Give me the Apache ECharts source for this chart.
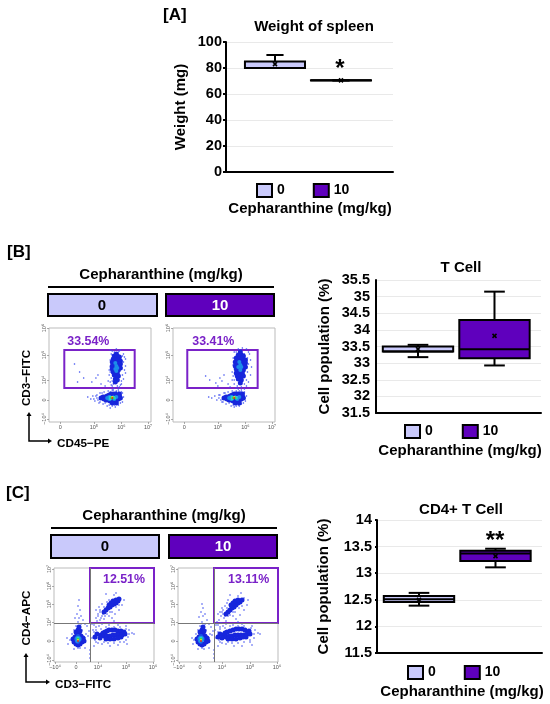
<!DOCTYPE html>
<html><head><meta charset="utf-8">
<style>html,body{margin:0;padding:0;background:#fff}#c{width:550px;height:704px}</style>
<script src="https://cdn.jsdelivr.net/npm/echarts@6/dist/echarts.min.js"></script>
</head><body><div id="c"></div>
<script>
// ---- data: box plots, rows are [group, min, q1, median, q3, max, mean]
const doses = ['0', '10'];
const spleen0 = [0, 80, 80, 80, 85, 90, 83];
const spleen10 = [1, 70.4, 70.4, 70.5, 70.6, 70.6, 70.5];
const tcell0 = [0, 33.18, 33.35, 33.35, 33.5, 33.55, 33.42];
const tcell10 = [1, 32.93, 33.15, 33.42, 34.3, 35.15, 33.82];
const cd4_0 = [0, 12.39, 12.46, 12.51, 12.57, 12.63, 12.5];
const cd4_10 = [1, 13.11, 13.23, 13.37, 13.42, 13.46, 13.32];
// ---- flow panel tick positions (scale units) and labels
const bTickX = [11, 44, 71, 97], bTickXLabels = ['0', '10⁵', '10⁶', '10⁷'];
const bTickY = [3, 22, 42, 67, 94], bTickYLabels = ['−10⁴', '0', '10⁴', '10⁵', '10⁶'];
const cTickX = [1, 22, 44, 72, 99], cTickXLabels = ['−10⁴', '0', '10⁴', '10⁵', '10⁶'];
const cTickY = [2, 21, 40, 58, 76, 93], cTickYLabels = ['−10⁴', '0', '10⁴', '10⁵', '10⁶', '10⁷'];
// ---- flow events: sparse, dense, core [x, y, heat]
const b1Sparse = [[25,58],[30,50],[34,44],[28,40],[42,40],[46,44],[51,38],[55,36],[48,47],[58,41],[59,47],[60,55],[60,62],[61,68],[62,71],[66,73],[70,72],[73,68],[75,63],[75,56],[75,49],[73,43],[71,38],[69,35],[62,36],[60,40],[64,34],[68,33],[66,31],[63,32],[38,25],[41,23],[43,26],[45,21],[47,27],[49,19],[50,29],[54,30],[58,31],[62,32],[68,31],[72,29],[73,25],[72,20],[68,17],[62,16],[57,16],[53,18],[60,14],[65,15],[61,37],[72,66],[59,52],[74,52],[72,47],[47,24],[44,23],[60,72],[68,70],[62,67],[61,44],[62,41],[71,41],[70,37],[60,50],[73,60],[74,65],[64,70],[69,71],[63,38],[67,36],[46,26],[48,22],[50,20],[52,29],[55,19],[59,17],[64,17],[70,19],[71,30],[66,30],[60,30]];
const b1Dense = [[66,68],[64,66],[67,66],[69,65],[63,63],[65,62],[68,62],[70,61],[62,60],[64,59],[66,59],[68,58],[70,58],[62,56],[64,56],[66,55],[68,55],[70,54],[62,53],[64,52],[66,52],[68,52],[63,50],[65,49],[67,49],[64,47],[66,46],[68,46],[65,43],[67,42],[65,40],[51,24],[53,25],[55,25],[57,26],[59,27],[61,28],[63,28],[65,28],[67,27],[69,26],[54,23],[56,22],[58,22],[60,21],[62,21],[64,21],[66,22],[68,23],[70,24],[69,28],[66,19],[62,19]];
const b1Core = [[65,59,2],[66,56,2],[65,53,2],[67,54,2],[66,51,2],[57,24,2],[59,25,2],[66,25,2],[64,23,2],[59,23,2],[60,25,3],[63,25,3],[60,23,3],[64,24,3],[61,24,4],[63,24,4],[62,25,5],[62,24,6]];
const b2Sparse = [[32,46],[36,42],[42,39],[46,44],[48,41],[50,47],[54,38],[44,36],[56,35],[58,42],[58,50],[59,57],[59,64],[60,70],[64,73],[68,74],[72,73],[75,68],[76,62],[77,55],[76,47],[74,40],[72,36],[70,33],[62,34],[60,38],[64,33],[67,32],[66,30],[35,25],[38,24],[41,26],[43,22],[46,27],[48,20],[50,29],[54,30],[58,31],[62,31],[67,30],[70,29],[72,26],[71,21],[67,18],[62,16],[57,16],[52,18],[60,15],[65,16],[74,58],[59,46],[73,50],[62,70],[70,68],[45,24],[60,42],[61,47],[72,42],[70,38],[63,36],[67,35],[73,64],[74,70],[66,72],[60,60],[45,27],[47,22],[49,20],[51,29],[55,19],[59,17],[64,17],[69,19],[70,30],[65,31]];
const b2Dense = [[66,70],[64,67],[67,67],[69,66],[62,64],[65,63],[68,63],[71,62],[61,60],[63,60],[66,60],[68,59],[71,59],[61,56],[63,56],[66,56],[68,56],[71,55],[62,53],[64,52],[66,52],[69,52],[62,49],[65,49],[68,49],[63,46],[66,46],[69,46],[64,43],[67,42],[66,39],[50,24],[52,25],[54,25],[56,26],[58,27],[60,28],[62,28],[64,28],[66,27],[68,26],[53,23],[55,22],[57,22],[59,21],[61,21],[63,21],[65,22],[67,23],[69,24],[68,28],[65,19],[61,19]];
const b2Core = [[65,60,2],[66,57,2],[64,55,2],[67,55,2],[66,52,2],[55,24,2],[57,25,2],[65,25,2],[63,23,2],[57,23,2],[58,25,3],[61,25,3],[58,23,3],[62,24,3],[59,24,4],[61,24,4],[60,25,5],[60,24,6]];
const c1Sparse = [[25,62],[24,56],[26,52],[23,48],[27,46],[21,44],[29,42],[25,44],[31,38],[33,36],[31,24],[34,26],[35,31],[13,24],[14,18],[20,13],[26,14],[31,14],[36,12],[36,8],[36,4],[42,52],[44,48],[42,44],[46,42],[48,46],[50,43],[45,55],[48,58],[52,52],[55,46],[58,44],[61,48],[60,41],[65,52],[68,57],[70,62],[66,63],[60,67],[62,69],[40,37],[42,35],[38,38],[48,38],[72,36],[75,32],[78,29],[74,25],[70,20],[64,17],[56,16],[48,18],[42,20],[38,24],[39,32],[45,36],[55,37],[64,37],[80,28],[52,68],[55,62],[46,50],[53,60],[40,16],[73,18],[44,46],[47,44],[49,48],[51,46],[53,48],[56,50],[58,50],[50,55],[46,52],[43,41],[62,55],[65,57],[40,30],[41,22],[44,19],[50,20],[54,19],[60,19],[66,20],[72,22],[75,28],[72,33],[66,35],[60,35],[52,35],[47,33],[42,32],[24,40],[27,38],[22,36],[20,32],[28,32],[32,28],[31,20],[16,22],[18,28],[24,14]];
const c1Dense = [[52,52],[54,54],[56,55],[58,57],[55,57],[60,58],[57,59],[62,59],[59,61],[64,61],[62,62],[65,63],[50,50],[47,27],[49,29],[51,30],[53,31],[55,32],[58,32],[61,32],[64,31],[67,31],[70,30],[50,26],[53,26],[56,26],[59,27],[62,27],[65,27],[68,27],[71,28],[46,24],[52,23],[56,23],[60,23],[64,24],[67,25],[43,28],[41,25],[20,20],[22,18],[24,17],[26,18],[28,20],[19,23],[21,25],[23,27],[25,28],[27,26],[29,24],[22,30],[24,32],[26,31],[25,35],[27,23],[30,21]];
const c1Core = [[22,23,1],[26,23,1],[24,26,1],[24,20,1],[23,24,2],[25,22,2],[25,24,2],[23,21,2],[24,24,3],[24,22,3],[24,23,4],[24,22,5],[24,21,6]];
const c2Sparse = [[24,58],[25,54],[23,50],[27,48],[21,45],[29,42],[25,46],[31,38],[33,35],[31,24],[34,27],[35,31],[14,24],[15,18],[20,13],[26,13],[31,14],[36,12],[36,8],[36,4],[40,48],[43,46],[41,42],[46,44],[48,41],[39,40],[45,52],[47,56],[52,50],[55,46],[58,43],[62,47],[60,40],[66,52],[69,57],[70,62],[66,64],[60,66],[63,69],[40,37],[42,35],[38,37],[48,38],[74,36],[77,32],[80,29],[76,24],[72,20],[64,16],[56,16],[48,18],[42,20],[38,24],[37,32],[45,36],[55,37],[64,38],[82,28],[52,67],[50,62],[44,50],[49,59],[40,16],[74,17],[42,50],[45,48],[47,46],[50,46],[52,47],[55,50],[57,50],[49,54],[44,54],[43,39],[61,54],[64,56],[40,30],[41,22],[44,19],[50,20],[54,19],[60,19],[66,20],[72,22],[76,28],[73,34],[66,36],[60,36],[52,36],[47,34],[42,33],[24,40],[27,38],[22,36],[20,32],[28,32],[32,28],[31,20],[16,22],[18,28],[24,14]];
const c2Dense = [[50,50],[52,52],[54,54],[56,55],[53,57],[58,57],[55,59],[60,59],[57,61],[62,60],[60,62],[64,62],[48,48],[45,27],[47,29],[49,30],[52,31],[55,32],[58,33],[61,33],[64,33],[67,32],[71,31],[48,25],[51,26],[54,26],[57,27],[60,27],[63,27],[66,27],[69,28],[72,28],[44,24],[50,23],[54,23],[58,23],[62,24],[65,25],[68,25],[42,28],[40,25],[20,20],[22,18],[24,17],[26,18],[28,20],[19,23],[21,25],[23,27],[25,28],[27,26],[29,24],[22,30],[24,32],[26,31],[25,35],[27,23],[30,21]];
const c2Core = [[21,23,1],[25,23,1],[23,26,1],[23,20,1],[22,24,2],[24,22,2],[24,24,2],[22,21,2],[23,24,3],[23,22,3],[23,23,4],[23,22,5],[23,21,6]];
// ---- gates and percentages
const bGate1 = [[15, 72], [84, 34]], bGate2 = [[14, 72], [83, 34]];
const cGate = [[36, 94], [100, 39]];
const cQuad = [36, 39];

const LAV = '#c9c9fb', PUR = '#5f00bd', GATE = '#7a22c8', FONT = '"Liberation Sans",Arial,sans-serif';
const heat = ['#1726dc', '#1a55e6', '#1c8ce8', '#25cfd8', '#3ed84e', '#f0e020', '#e0201a'];

function boxItem(cap, wid) {
  return function (params, api) {
    const x = api.value(0);
    const p = v => api.coord([x, api.value(v)]);
    const half = api.size([wid, 0])[0] / 2, capH = api.size([cap, 0])[0] / 2;
    const cx = p(1)[0];
    const ys = [1, 2, 3, 4, 5, 6].map(i => p(i)[1]);
    const ln = (x1, y1, x2, y2, w) => ({ type: 'line', shape: { x1, y1, x2, y2 }, style: { stroke: '#000', lineWidth: w || 2 } });
    const m = ys[5];
    return {
      type: 'group', children: [
        ln(cx, ys[0], cx, ys[4]),
        ln(cx - capH, ys[0], cx + capH, ys[0]),
        ln(cx - capH, ys[4], cx + capH, ys[4]),
        { type: 'rect', shape: { x: cx - half, y: ys[3], width: half * 2, height: ys[1] - ys[3] }, style: { fill: api.visual('color'), stroke: '#000', lineWidth: 2 } },
        ln(cx - half, ys[2], cx + half, ys[2]),
        ln(cx - 2, m - 2, cx + 2, m + 2, 1.6),
        ln(cx - 2, m + 2, cx + 2, m - 2, 1.6)
      ]
    };
  };
}
function boxSeries(name, row, color, i, cap, wid) {
  return { type: 'custom', name, xAxisIndex: i, yAxisIndex: i, data: [row], encode: { x: 0, y: [1, 2, 3, 4, 5, 6] }, clip: false,
    itemStyle: { color, borderColor: '#000', borderWidth: 2 }, renderItem: boxItem(cap, wid) };
}
const AX = { fontFamily: FONT, fontWeight: 'bold', fontSize: 14.5, color: '#000' };
function boxValueAxis(i, min, max, interval, name, gap, margin, tick) {
  return { type: 'value', gridIndex: i, min, max, interval, name, nameLocation: 'middle', nameRotate: 90, nameGap: gap,
    nameTextStyle: { fontFamily: FONT, fontWeight: 'bold', fontSize: 15, color: '#000' },
    axisLine: { show: true, onZero: false, lineStyle: { color: '#000', width: 2 } },
    axisTick: { show: tick > 0, length: tick, lineStyle: { color: '#000', width: 2 } },
    axisLabel: Object.assign({ margin, hideOverlap: false }, AX),
    splitLine: { show: true, lineStyle: { color: '#e9e9e9', width: 1 } } };
}
function boxCatAxis(i, min, max) {
  return { type: 'value', gridIndex: i, min, max, axisLine: { show: true, onZero: false, lineStyle: { color: '#000', width: 2 } },
    axisTick: { show: false }, axisLabel: { show: false }, splitLine: { show: false } };
}
function legend(left, top, gap) {
  return { left, top, padding: 0, itemWidth: 15, itemHeight: 13, itemGap: gap, selectedMode: false, icon: 'rect', data: doses,
    textStyle: { fontFamily: FONT, fontWeight: 'bold', fontSize: 14, color: '#000' } };
}
function flowX(i, ticks, labels) {
  return { type: 'value', gridIndex: i, min: 0, max: 100, axisLine: { show: false },
    axisTick: { show: true, length: 2, customValues: ticks, lineStyle: { color: '#888', width: .7 } },
    axisLabel: { show: true, customValues: ticks, margin: 2, fontSize: 5.5, color: '#555', fontFamily: FONT, hideOverlap: false, formatter: v => labels[ticks.indexOf(v)] },
    splitLine: { show: false } };
}
function flowY(i, ticks, labels) {
  return { type: 'value', gridIndex: i, min: 0, max: 94, axisLine: { show: false },
    axisTick: { show: true, length: 2, customValues: ticks, lineStyle: { color: '#888', width: .7 } },
    axisLabel: { show: true, customValues: ticks, rotate: 90, margin: 2, fontSize: 5.5, color: '#555', fontFamily: FONT, hideOverlap: false, formatter: v => labels[ticks.indexOf(v)] },
    splitLine: { show: false } };
}
function flowSeries(i, sparse, dense, core, gate, pct, pctPos, quad) {
  const data = sparse.map(p => [p[0], p[1], 'a']).concat(dense.map(p => [p[0], p[1], 'b']), core);
  const s = { type: 'scatter', xAxisIndex: i, yAxisIndex: i, data, silent: true, animation: false,
    symbolSize: v => v[2] === 'a' ? 1.6 : v[2] === 'b' ? 5 : [3, 4, 4, 3.2, 2.6, 2, 1.8][v[2]],
    itemStyle: { color: o => typeof o.value[2] === 'string' ? (o.value[2] === 'a' ? '#3b4df0' : heat[0]) : heat[o.value[2]], opacity: 1 },
    markArea: { silent: true, data: [[
      { coord: gate[0], itemStyle: { color: 'rgba(0,0,0,0)', borderColor: GATE, borderWidth: 2 },
        label: { show: true, formatter: pct, position: pctPos, fontFamily: FONT, fontWeight: 'bold', fontSize: 12.4, color: GATE } },
      { coord: gate[1] }]] } };
  if (quad) s.markLine = { silent: true, symbol: 'none', label: { show: false }, lineStyle: { color: '#777', width: 1, type: 'solid' }, data: [{ xAxis: quad[0] }, { yAxis: quad[1] }] };
  return s;
}
// ---- free text and decoration
const txt = (x, y, text, size, o) => Object.assign({ type: 'text', x, y, style: { text, fontFamily: FONT, fontWeight: 'bold', fontSize: size, fill: (o && o.fill) || '#000', textAlign: (o && o.align) || 'center', textVerticalAlign: 'middle' } }, o && o.rotation ? { rotation: o.rotation } : {});
const rect = (x, y, w, h, fill) => ({ type: 'rect', shape: { x, y, width: w, height: h }, style: { fill, stroke: '#000', lineWidth: 2 } });
const hline = (x1, x2, y) => ({ type: 'line', shape: { x1, y1: y, x2, y2: y }, style: { stroke: '#000', lineWidth: 2 } });
const arrows = (x, y, top, right) => [
  { type: 'polyline', shape: { points: [[x, top + 3], [x, y], [right - 3, y]] }, style: { stroke: '#000', lineWidth: 1.5, fill: 'none' } },
  { type: 'polygon', shape: { points: [[x - 2.5, top + 4], [x + 2.5, top + 4], [x, top]] }, style: { fill: '#000' } },
  { type: 'polygon', shape: { points: [[right - 4, y - 2.5], [right - 4, y + 2.5], [right, y]] }, style: { fill: '#000' } }];
const R90 = Math.PI / 2;
const graphics = [
  txt(163, 15, '[A]', 17, { align: 'left' }), txt(7, 252, '[B]', 17, { align: 'left' }), txt(6, 493, '[C]', 17, { align: 'left' }),
  txt(314, 27, 'Weight of spleen', 15), txt(461, 268, 'T Cell', 15), txt(461, 510, 'CD4+ T Cell', 15),
  txt(310, 209, 'Cepharanthine (mg/kg)', 15), txt(460, 451, 'Cepharanthine (mg/kg)', 15), txt(462, 692, 'Cepharanthine (mg/kg)', 15),
  txt(340, 69, '*', 24), txt(495, 541, '**', 24),
  txt(161, 275, 'Cepharanthine (mg/kg)', 15), hline(48, 274, 287), rect(48, 294, 109, 22, LAV), rect(166, 294, 108, 22, PUR),
  txt(102, 306, '0', 15), txt(220, 306, '10', 15, { fill: '#fff' }),
  txt(164, 516, 'Cepharanthine (mg/kg)', 15), hline(51, 277, 528), rect(51, 535, 108, 23, LAV), rect(169, 535, 108, 23, PUR),
  txt(105, 547, '0', 15), txt(223, 547, '10', 15, { fill: '#fff' }),
  txt(27, 378, 'CD3−FITC', 11.7, { rotation: R90 }), txt(57, 444, 'CD45−PE', 11.7, { align: 'left' }),
  txt(27, 618, 'CD4−APC', 11.7, { rotation: R90 }), txt(55, 685, 'CD3−FITC', 11.7, { align: 'left' })
].concat(arrows(29, 441, 412, 52), arrows(26, 682, 653, 50));

const flowGrid = (left, top, width, height) => ({ left, top, width, height, show: true, borderColor: '#bbb', borderWidth: 1, backgroundColor: '#fff' });

const option = {
  animation: false,
  grid: [
    { left: 226, top: 42, width: 167, height: 130 },
    { left: 376, top: 280, width: 165, height: 133 },
    { left: 377, top: 520, width: 165, height: 133 },
    flowGrid(49, 328, 102, 94), flowGrid(173, 328, 102, 94),
    flowGrid(54, 568, 100, 94), flowGrid(178, 568, 100, 94)
  ],
  xAxis: [boxCatAxis(0, -0.742, 1.788), boxCatAxis(1, -0.549, 1.608), boxCatAxis(2, -0.549, 1.608),
    flowX(3, bTickX, bTickXLabels), flowX(4, bTickX, bTickXLabels), flowX(5, cTickX, cTickXLabels), flowX(6, cTickX, cTickXLabels)],
  yAxis: [boxValueAxis(0, 0, 100, 20, 'Weight (mg)', 38, 4, 3), boxValueAxis(1, 31.5, 35.5, 0.5, 'Cell population (%)', 44, 6, 0), boxValueAxis(2, 11.5, 14, 0.5, 'Cell population (%)', 46, 5, 2),
    flowY(3, bTickY, bTickYLabels), flowY(4, bTickY, bTickYLabels), flowY(5, cTickY, cTickYLabels), flowY(6, cTickY, cTickYLabels)],
  legend: [legend(256, 183, 28), legend(404, 424, 29), legend(407, 665, 28)],
  series: [
    boxSeries(doses[0], spleen0, LAV, 0, 0.26, 0.91), boxSeries(doses[1], spleen10, PUR, 0, 0.26, 0.91),
    boxSeries(doses[0], tcell0, LAV, 1, 0.27, 0.92), boxSeries(doses[1], tcell10, PUR, 1, 0.27, 0.92),
    boxSeries(doses[0], cd4_0, LAV, 2, 0.27, 0.92), boxSeries(doses[1], cd4_10, PUR, 2, 0.27, 0.92),
    flowSeries(3, b1Sparse, b1Dense, b1Core, bGate1, '33.54%', [4, -13]),
    flowSeries(4, b2Sparse, b2Dense, b2Core, bGate2, '33.41%', [6, -13]),
    flowSeries(5, c1Sparse, c1Dense, c1Core, cGate, '12.51%', [14, 7], cQuad),
    flowSeries(6, c2Sparse, c2Dense, c2Core, cGate, '13.11%', [15, 7], cQuad)
  ],
  graphic: graphics
};
echarts.init(document.getElementById('c'), null, { renderer: 'canvas' }).setOption(option);
</script></body></html>
